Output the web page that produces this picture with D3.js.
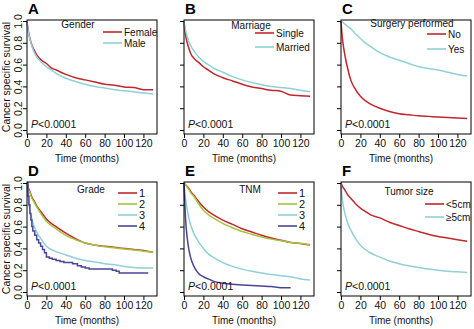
<!DOCTYPE html>
<html>
<head>
<meta charset="utf-8">
<script src="https://cdn.jsdelivr.net/npm/d3@7"></script>
<style>
  body { margin: 0; background: #fff; }
  text { font-family: "Liberation Sans", Arial, sans-serif; }
</style>
</head>
<body>
<div id="chart"></div>
<script>
// shared time grid (months)
var months = [0, 1, 2, 3, 5, 7, 10, 15, 20, 25, 30, 40, 50, 60, 70, 80, 90, 100, 110, 120, 130];
var xTicks = [0, 20, 40, 60, 80, 100, 120];
var yTicks = [0, 0.2, 0.4, 0.6, 0.8, 1.0];

// A - gender
var female = [1, .93, .88, .84, .78, .74, .69, .64, .61, .57, .55, .51, .48, .46, .44, .42, .41, .395, .39, .37, .37];
var male = [1, .92, .87, .83, .77, .72, .67, .62, .58, .55, .52, .475, .445, .42, .40, .385, .37, .36, .35, .34, .33];
// B - marriage
var single = [1, .91, .85, .81, .75, .70, .66, .62, .58, .55, .52, .48, .45, .42, .395, .38, .365, .355, .32, .315, .31];
var married = [1, .94, .90, .87, .81, .77, .73, .67, .63, .60, .57, .53, .49, .46, .435, .415, .40, .39, .38, .365, .35];
// C - surgery
var surgNo = [1, .88, .80, .74, .64, .56, .46, .37, .31, .27, .24, .20, .17, .15, .14, .13, .125, .12, .115, .11, .105];
var surgYes = [1, .995, .99, .98, .965, .95, .93, .88, .84, .80, .77, .71, .67, .64, .61, .58, .565, .55, .53, .51, .495];
// D - grade
var grade1 = [1, .97, .94, .92, .87, .84, .79, .73, .67, .63, .60, .54, .49, .45, .43, .42, .41, .40, .39, .38, .365];
var grade2 = [1, .96, .93, .91, .86, .83, .78, .71, .65, .61, .58, .52, .48, .45, .43, .415, .405, .395, .385, .375, .365];
var grade3 = [1, .88, .80, .75, .67, .61, .55, .48, .42, .39, .37, .34, .31, .29, .275, .26, .25, .235, .225, .22, .22];
var grade4Months = [0, 1, 2, 3, 4, 5, 6, 8, 10, 12, 14, 16, 18, 20, 23, 26, 30, 34, 38, 42, 47, 52, 56, 60, 64, 70, 78, 88, 92, 95, 125];
var grade4 = [1, .88, .80, .72, .66, .60, .56, .52, .48, .45, .42, .39, .36, .32, .31, .30, .29, .28, .27, .27, .26, .24, .23, .22, .21, .21, .21, .20, .19, .175, .175];
// E - TNM
var tnm1 = [1, .99, .98, .97, .95, .92, .89, .83, .78, .74, .71, .66, .62, .58, .55, .52, .495, .475, .455, .445, .43];
var tnm2 = [1, .99, .98, .965, .94, .91, .88, .81, .75, .71, .68, .63, .59, .555, .53, .505, .485, .47, .455, .445, .435];
var tnm3 = [1, .90, .83, .77, .68, .61, .54, .46, .40, .35, .32, .27, .235, .21, .19, .175, .16, .15, .14, .12, .11];
var tnm4 = [1, .78, .62, .52, .39, .31, .24, .17, .14, .12, .10, .08, .07, .065, .06, .055, .05, .04, .04, null, null];
// F - tumor size
var sizeSmall = [1, .98, .96, .95, .92, .89, .86, .81, .77, .74, .71, .68, .64, .61, .58, .555, .53, .51, .495, .48, .465];
var sizeLarge = [1, .88, .81, .76, .69, .63, .57, .49, .43, .39, .36, .32, .285, .26, .24, .225, .21, .20, .19, .185, .18];

var RED = "#c1272d", CYAN = "#8fd0d9", GREEN = "#a3c53a", PURPLE = "#4b4597";

var panels = [
  {letter: "A", title: "Gender", col: 0, row: 0, series: [
    {label: "Female", t: months, v: female, color: RED},
    {label: "Male", t: months, v: male, color: CYAN}]},
  {letter: "B", title: "Marriage", col: 1, row: 0, series: [
    {label: "Single", t: months, v: single, color: RED},
    {label: "Married", t: months, v: married, color: CYAN}]},
  {letter: "C", title: "Surgery performed", col: 2, row: 0, series: [
    {label: "No", t: months, v: surgNo, color: RED},
    {label: "Yes", t: months, v: surgYes, color: CYAN}]},
  {letter: "D", title: "Grade", col: 0, row: 1, series: [
    {label: "1", t: months, v: grade1, color: RED},
    {label: "2", t: months, v: grade2, color: GREEN},
    {label: "3", t: months, v: grade3, color: CYAN},
    {label: "4", t: grade4Months, v: grade4, color: PURPLE, step: true}]},
  {letter: "E", title: "TNM", col: 1, row: 1, series: [
    {label: "1", t: months, v: tnm1, color: RED},
    {label: "2", t: months, v: tnm2, color: GREEN},
    {label: "3", t: months, v: tnm3, color: CYAN},
    {label: "4", t: months, v: tnm4, color: PURPLE}]},
  {letter: "F", title: "Tumor size", col: 2, row: 1, series: [
    {label: "<5cm", t: months, v: sizeSmall, color: RED},
    {label: "\u22655cm", t: months, v: sizeLarge, color: CYAN}]}
];

// legend placement per panel (relative to box left/top)
var legendPos = [
  {tx: 51, ty: 4, lx: 76, ly: 12, step: 11},
  {tx: 67, ty: 5, lx: 71, ly: 13, step: 14},
  {tx: 71, ty: 3, lx: 86, ly: 14, step: 15},
  {tx: 64, ty: 7, lx: 91, ly: 11, step: 11},
  {tx: 66, ty: 7, lx: 94, ly: 11, step: 11},
  {tx: 68, ty: 9, lx: 84, ly: 22, step: 13}
];

var W = 474, H = 329;
var boxLeft = [27, 184, 341], boxW = 130;
var boxTop = [20, 182], boxH = 114;
var FS = 10;

var svg = d3.select("#chart").append("svg")
  .attr("width", W)
  .attr("height", H);

panels.forEach(function(p, i) {
  var left = boxLeft[p.col], top = boxTop[p.row];
  var g = svg.append("g").attr("transform", "translate(" + left + "," + top + ")");

  var x = d3.scaleLinear().domain([0, 134]).range([0, boxW]);
  var y = d3.scaleLinear().domain([0, 1]).range([110, 1]);

  // curves
  p.series.forEach(function(s) {
    var pts = s.t.map(function(t, k) { return [t, s.v[k]]; });
    var line = d3.line()
      .defined(function(d) { return d[1] != null; })
      .x(function(d) { return x(d[0]); })
      .y(function(d) { return y(d[1]); })
      .curve(s.step ? d3.curveStepAfter : d3.curveMonotoneX);
    g.append("path")
      .datum(pts)
      .attr("d", line)
      .attr("fill", "none")
      .attr("stroke", s.color)
      .attr("stroke-width", 1.5);
  });

  // box
  g.append("rect")
    .attr("x", 0).attr("y", 0)
    .attr("width", boxW).attr("height", boxH)
    .attr("fill", "none")
    .attr("stroke", "#000")
    .attr("stroke-width", 1);

  // x axis
  var xa = g.append("g")
    .attr("transform", "translate(0," + boxH + ")")
    .call(d3.axisBottom(x).tickValues(xTicks).tickSize(4).tickPadding(2));
  xa.select(".domain").remove();
  xa.selectAll("text").attr("font-size", FS + 0.5).attr("fill", "#111");

  // y axis, labels turned like R's las=0
  var ya = g.append("g")
    .call(d3.axisLeft(y).tickValues(yTicks).tickSize(4)
      .tickFormat(p.col == 0 ? d3.format(".1f") : function() { return ""; }));
  ya.select(".domain").remove();
  ya.selectAll(".tick text")
    .attr("font-size", FS + 0.5)
    .attr("fill", "#111")
    .attr("text-anchor", "middle")
    .attr("x", 0).attr("y", 0).attr("dy", null)
    .attr("transform", "translate(-5,0) rotate(-90)");

  if (p.col == 0) {
    g.append("text")
      .attr("transform", "translate(-17," + (boxH / 2) + ") rotate(-90)")
      .attr("text-anchor", "middle")
      .attr("font-size", FS + 0.5)
      .attr("fill", "#111")
      .text("Cancer specific survival");
  }

  // x label
  g.append("text")
    .attr("x", boxW / 2 - 5)
    .attr("y", boxH + 28)
    .attr("text-anchor", "middle")
    .attr("font-size", FS)
    .attr("fill", "#111")
    .text("Time (months)");

  // panel letter
  g.append("text")
    .attr("x", 1)
    .attr("y", -6)
    .attr("font-size", 15)
    .attr("font-weight", "bold")
    .text(p.letter);

  // p value
  var pv = g.append("text")
    .attr("x", 4)
    .attr("y", boxH - 6)
    .attr("font-size", FS + 0.5)
    .attr("fill", "#111");
  pv.append("tspan").attr("font-style", "italic").text("P");
  pv.append("tspan").text("<0.0001");

  // legend
  var L = legendPos[i];
  g.append("text")
    .attr("x", L.tx)
    .attr("y", L.ty + 4)
    .attr("text-anchor", "middle")
    .attr("font-size", FS)
    .attr("fill", "#111")
    .text(p.title);
  p.series.forEach(function(s, k) {
    var ly = L.ly + k * L.step;
    g.append("line")
      .attr("x1", L.lx).attr("x2", L.lx + 19)
      .attr("y1", ly).attr("y2", ly)
      .attr("stroke", s.color)
      .attr("stroke-width", 1.6);
    g.append("text")
      .attr("x", L.lx + 21)
      .attr("y", ly + 4)
      .attr("font-size", s.label.length == 1 ? 11 : FS)
      .attr("fill", "#111")
      .text(s.label);
  });
});
</script>
</body>
</html>
